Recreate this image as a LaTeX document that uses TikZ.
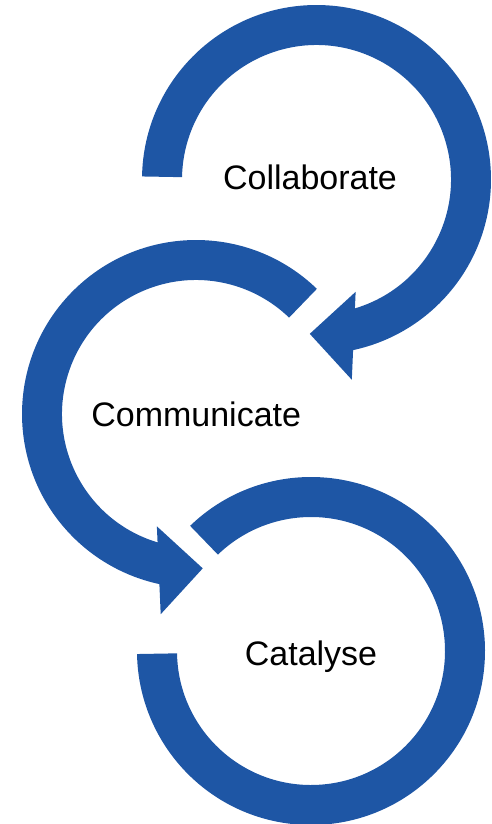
\documentclass[tikz,border=0pt]{standalone}
\usepackage{fontspec}
\setmainfont{Liberation Sans}
\definecolor{arrowblue}{RGB}{30,86,165}
\tikzset{
  ringarrow/.style={fill=arrowblue, draw=none},
  steplabel/.style={anchor=base, inner sep=0pt, text=black, font=\fontsize{34}{40}\selectfont}
}
\begin{document}
\begin{tikzpicture}[x=1pt,y=1pt]
\useasboundingbox (0,0) rectangle (491,-824);
% ---- Collaborate: clockwise arrow, head at bottom pointing left
\begin{scope}[shift={(316.5,-179.5)}, rotate=-92.5]
  \path[ringarrow] (271.5:174.5)
    arc[start angle=271.5, end angle={asin(44/174.5)}, radius=174.5]
    -- (198.5,44) -- (154.5,0) -- (110.5,44)
    -- ({asin(44/134.5)}:134.5)
    arc[start angle={asin(44/134.5)}, end angle=271.5, radius=134.5]
    -- cycle;
\end{scope}
% ---- Communicate: counter-clockwise arrow, head at bottom pointing right
\begin{scope}[shift={(196,-414)}, rotate=-87.5]
  \path[ringarrow] (133.5:174)
    arc[start angle=133.5, end angle={360-asin(44/174)}, radius=174]
    -- (198.5,-44) -- (154.5,0) -- (110.5,-44)
    -- ({360-asin(44/134)}:134)
    arc[start angle={360-asin(44/134)}, end angle=133.5, radius=134]
    -- cycle;
\end{scope}
% ---- Catalyse: clockwise open ring, no head
\begin{scope}[shift={(311,-651)}]
  \path[ringarrow] (134:174)
    arc[start angle=134, end angle=-179, radius=174]
    -- (-179:134)
    arc[start angle=-179, end angle=134, radius=134]
    -- cycle;
\end{scope}
\node[steplabel] (collaborate) at (310,-189.3) {Collaborate};
\node[steplabel] (communicate) at (196.2,-426.7) {Communicate};
\node[steplabel] (catalyse) at (311,-665.7) {Catalyse};
\end{tikzpicture}
\end{document}
